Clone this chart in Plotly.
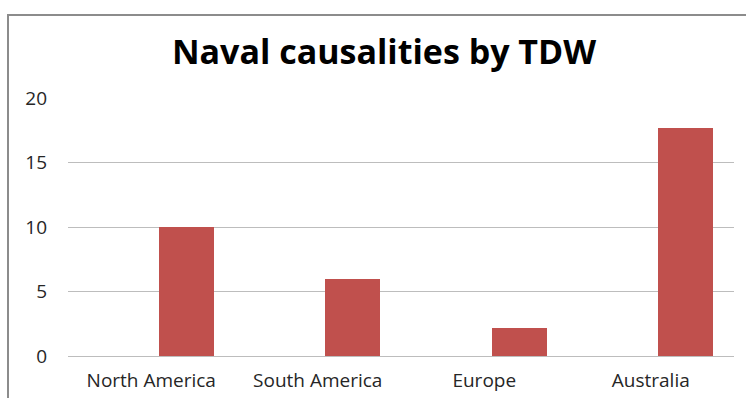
import plotly.graph_objects as go

# Chart data
regions = ["North America", "South America", "Europe", "Australia"]
casualties = [10, 6, 2.2, 17.7]
y_ticks = [0, 5, 10, 15, 20]

W, H = 746, 398
M_L, M_R, M_T, M_B = 68, 12, 98, 42
plot_w = W - M_L - M_R
plot_h = H - M_T - M_B
FONT = "'Open Sans', Lato, sans-serif"

fig = go.Figure(
    go.Bar(
        x=regions,
        y=casualties,
        width=0.33,
        offset=0.045,
        marker=dict(color="#C0504D", line=dict(width=0)),
        showlegend=False,
    )
)

# Outer chart-area frame (left and top edges visible; the rest runs off the page)
fig.add_shape(
    type="rect",
    xref="paper", yref="paper",
    x0=(8 - M_L) / plot_w, x1=(W + 20 - M_L) / plot_w,
    y0=-(M_B + 20) / plot_h, y1=1 + (M_T - 15) / plot_h,
    line=dict(color="#8C8C8C", width=2),
    fillcolor="rgba(0,0,0,0)",
    layer="below",
)

fig.update_layout(
    width=W, height=H,
    margin=dict(l=M_L, r=M_R, t=M_T, b=M_B, pad=0, autoexpand=False),
    paper_bgcolor="white",
    plot_bgcolor="white",
    font=dict(family=FONT, color="#262626"),
    title=dict(
        text="<b>Naval causalities by TDW</b>",
        x=(384 - M_L) / plot_w, xanchor="center",
        xref="paper",
        y=1 - 52 / H, yanchor="middle",
        font=dict(size=34, color="#000000", family=FONT),
    ),
    xaxis=dict(
        type="category",
        range=[-0.5, 3.5],
        showgrid=False,
        showline=False,
        ticks="",
        tickfont=dict(size=19, color="#262626"),
        ticklabelstandoff=11,
        automargin=False,
        fixedrange=True,
    ),
    yaxis=dict(
        range=[0, 20],
        tickvals=y_ticks,
        showgrid=True,
        gridcolor="#BDBDBD",
        gridwidth=1,
        zeroline=True,
        zerolinecolor="#BDBDBD",
        zerolinewidth=1,
        showline=False,
        ticks="",
        tickfont=dict(size=19, color="#262626"),
        ticklabelstandoff=20,
        automargin=False,
        fixedrange=True,
    ),
    bargap=0,
)

fig.write_html("out.html")
